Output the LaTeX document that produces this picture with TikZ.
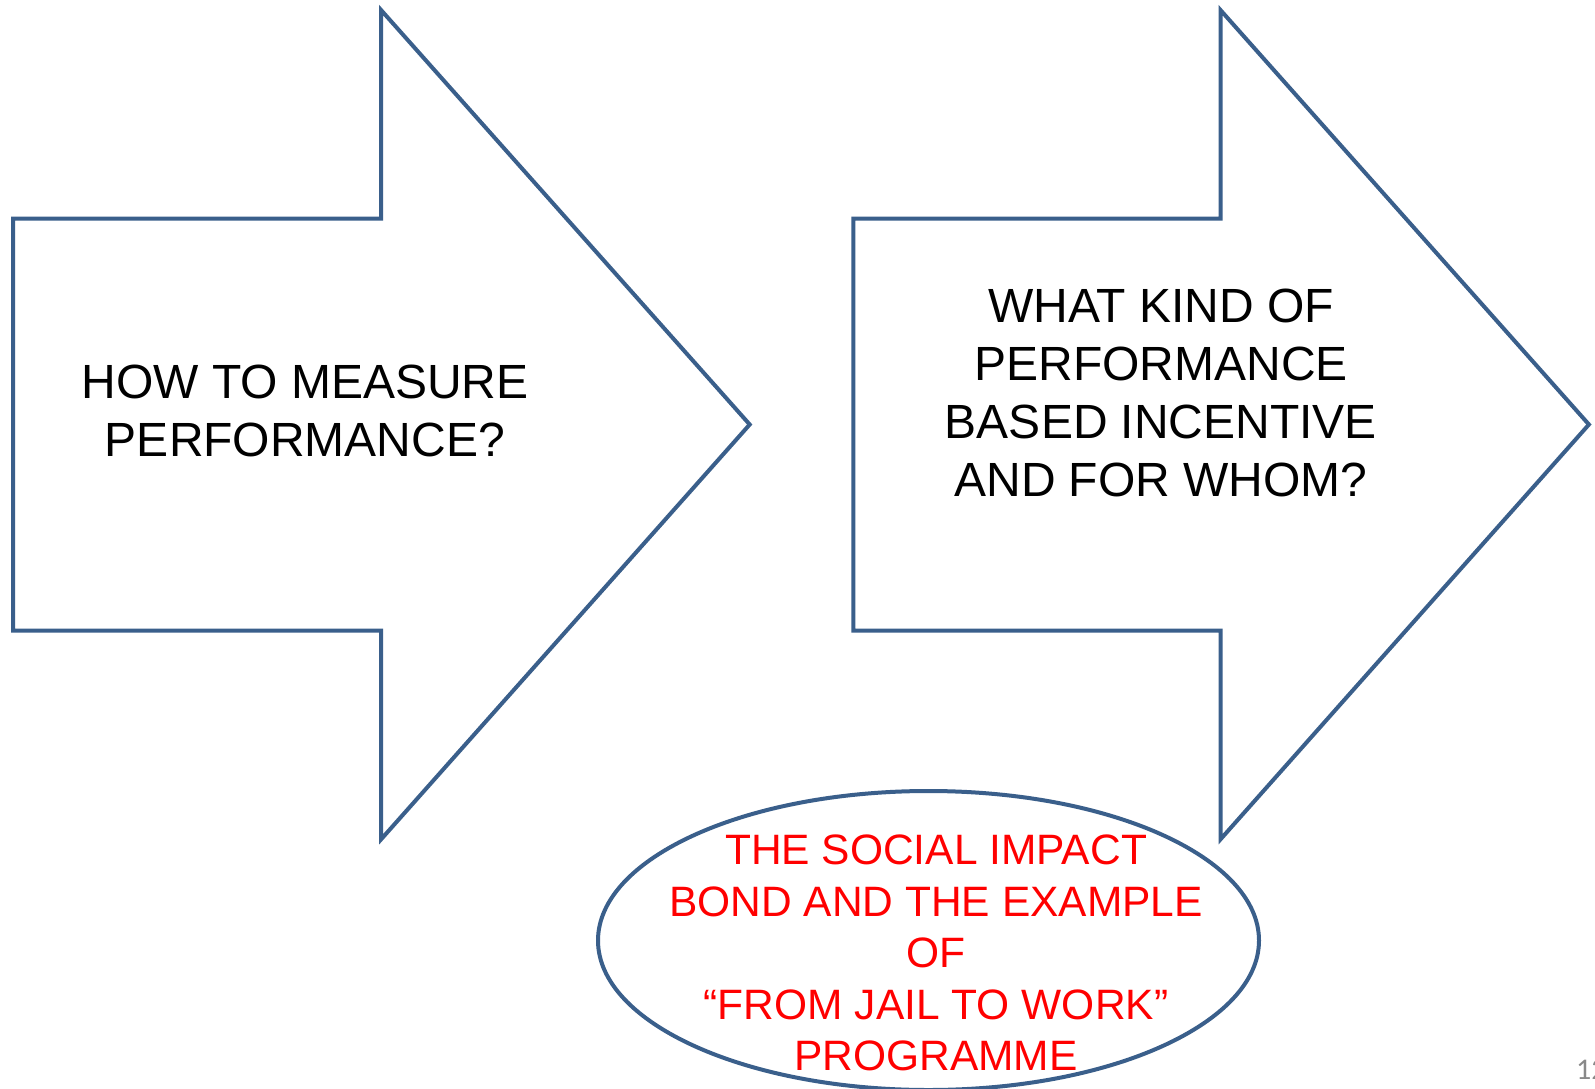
\documentclass[tikz,border=0pt]{standalone}
\usepackage{fontspec}
\setmainfont{Liberation Sans}
\newfontfamily\pgnumfont{Carlito}
\definecolor{arrowblue}{RGB}{58,95,139}
\definecolor{pggray}{RGB}{137,137,137}
\begin{document}
\begin{tikzpicture}[x=1pt,y=-1pt,
  shapeline/.style={draw=arrowblue,line width=4pt,line join=miter,fill=white},
  blacktext/.style={align=center,font=\fontsize{48}{58}\selectfont,text=black,inner sep=0pt},
  redtext/.style={align=center,font=\fontsize{42.5}{51.4}\selectfont,text=red,inner sep=0pt}]
\useasboundingbox[fill=white] (0,0) rectangle (1595,1089);
% left arrow
\draw[shapeline] (13.2,218.5) -- (381.2,218.5) -- (381.2,10.2) -- (749.7,424.5)
  -- (381.2,839.2) -- (381.2,630.7) -- (13.2,630.7) -- cycle;
% right arrow
\draw[shapeline] (853.4,218.5) -- (1220.6,218.5) -- (1220.6,10.2) -- (1588.9,424.5)
  -- (1220.6,839.2) -- (1220.6,630.7) -- (853.4,630.7) -- cycle;
% ellipse
\draw[shapeline] (928.5,940.5) ellipse [x radius=330.5, y radius=149.5];
\node[blacktext] (t1) at (305,411) {HOW TO MEASURE\\PERFORMANCE?};
\node[blacktext] (t2) at (1161,393) {WHAT KIND OF\\PERFORMANCE\\BASED INCENTIVE\\AND FOR WHOM?};
\node[redtext] (t3) at (936,953) {THE SOCIAL IMPACT\\BOND AND THE EXAMPLE\\OF\\“FROM JAIL TO WORK”\\PROGRAMME};
\node[anchor=base west,inner sep=0pt,text=pggray,font=\pgnumfont\fontsize{30}{32}\selectfont] (pg) at (1576,1079) {12};
\end{tikzpicture}
\end{document}
